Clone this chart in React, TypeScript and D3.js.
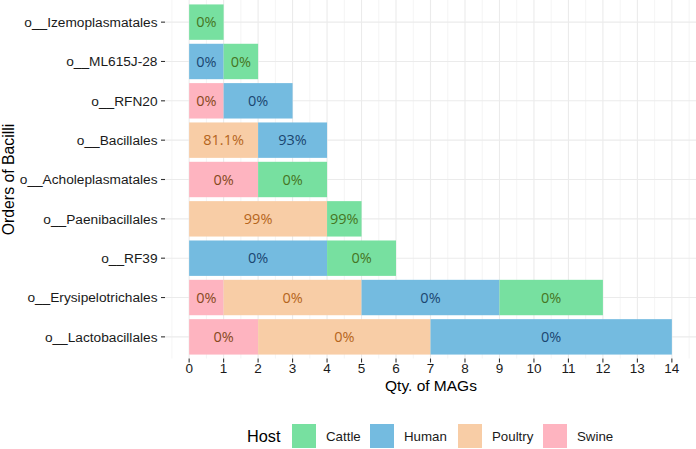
import React from "react";
import * as d3 from "d3";

const categories = [
  "o__Izemoplasmatales",
  "o__ML615J-28",
  "o__RFN20",
  "o__Bacillales",
  "o__Acholeplasmatales",
  "o__Paenibacillales",
  "o__RF39",
  "o__Erysipelotrichales",
  "o__Lactobacillales",
];
const hosts = ["Swine", "Poultry", "Human", "Cattle"];
const legendHosts = ["Cattle", "Human", "Poultry", "Swine"];
const swine = [0, 0, 1, 0, 2, 0, 0, 1, 2];
const poultry = [0, 0, 0, 2, 0, 4, 0, 4, 5];
const human = [0, 1, 2, 2, 0, 0, 4, 4, 7];
const cattle = [1, 1, 0, 0, 2, 1, 2, 3, 0];
const swineLbl = ["", "", "0%", "", "0%", "", "", "0%", "0%"];
const poultryLbl = ["", "", "", "81.1%", "", "99%", "", "0%", "0%"];
const humanLbl = ["", "0%", "0%", "93%", "", "", "0%", "0%", "0%"];
const cattleLbl = ["0%", "0%", "", "", "0%", "99%", "0%", "0%", ""];
const xTicks = d3.range(0, 15);

const fills: Record<string, string> = {
  Cattle: "#77e0a0",
  Human: "#74bbe0",
  Poultry: "#f8cda6",
  Swine: "#feb4c0",
};
const textCols: Record<string, string> = {
  Cattle: "#467522",
  Human: "#1b4670",
  Poultry: "#b5651c",
  Swine: "#86491c",
};

const values: Record<string, number[]> = { Swine: swine, Poultry: poultry, Human: human, Cattle: cattle };
const labels: Record<string, string[]> = { Swine: swineLbl, Poultry: poultryLbl, Human: humanLbl, Cattle: cattleLbl };

export default function App() {
  const W = 696, H = 449;
  const x = d3.scaleLinear().domain([-0.7, 14.7]).range([165, 696]);
  const y = d3.scaleBand().domain(categories).range([0.5, 358.5]).paddingOuter(0.1).paddingInner(0.1).align(0.5);
  const rows = categories.map((c, i) => {
    let acc = 0;
    return hosts.map((h) => {
      const v = values[h][i];
      const seg = { h, x0: acc, x1: acc + v, label: labels[h][i], cat: c };
      acc += v;
      return seg;
    }).filter((s) => s.x1 > s.x0);
  });
  const grid = d3.range(-0.5, 14.6, 0.5);
  const axisFont = "Liberation Sans, Arial, sans-serif";
  const legendX: Record<string, number> = { Cattle: 292, Human: 370, Poultry: 458, Swine: 543 };
  return (
    <svg width={W} height={H} style={{ position: "absolute", left: 0, top: 0, background: "#fff" }}>
      <g>
        {grid.map((g) => (
          <line key={"g" + g} x1={x(g)} x2={x(g)} y1={0} y2={358.5}
            stroke="#ebebeb" strokeWidth={Number.isInteger(g) ? 1.1 : 0.55} />
        ))}
        {categories.map((c) => (
          <line key={"hy" + c} x1={165} x2={696} y1={y(c)! + y.bandwidth() / 2} y2={y(c)! + y.bandwidth() / 2}
            stroke="#ebebeb" strokeWidth={1.1} />
        ))}
      </g>
      {rows.map((segs) =>
        segs.map((s) => (
          <g key={s.cat + s.h}>
            <rect x={x(s.x0)} width={x(s.x1) - x(s.x0)} y={y(s.cat)!} height={y.bandwidth()} fill={fills[s.h]} />
            <text x={(x(s.x0) + x(s.x1)) / 2} y={y(s.cat)! + y.bandwidth() / 2} dy="0.36em" textAnchor="middle"
              fontFamily="Open Sans, DejaVu Sans, sans-serif" fontSize={14.5} fill={textCols[s.h]}>{s.label}</text>
          </g>
        ))
      )}
      {categories.map((c) => (
        <g key={"yl" + c}>
          <line x1={161} x2={165} y1={y(c)! + y.bandwidth() / 2} y2={y(c)! + y.bandwidth() / 2} stroke="#333" strokeWidth={1.1} />
          <text x={157.5} y={y(c)! + y.bandwidth() / 2} dy="0.35em" textAnchor="end" fontFamily={axisFont} fontSize={13.7} fill="#1a1a1a">{c}</text>
        </g>
      ))}
      {xTicks.map((t) => (
        <g key={"xt" + t}>
          <line x1={x(t)} x2={x(t)} y1={358.5} y2={362.5} stroke="#333" strokeWidth={1.1} />
          <text x={x(t)} y={372.5} textAnchor="middle" fontFamily={axisFont} fontSize={13.5} fill="#1a1a1a">{t}</text>
        </g>
      ))}
      <text x={431} y={390.5} textAnchor="middle" fontFamily={axisFont} fontSize={15.5} fill="#000">Qty. of MAGs</text>
      <text transform={`translate(14,${179.5}) rotate(-90)`} textAnchor="middle" fontFamily={axisFont} fontSize={15.8} fill="#000">Orders of Bacilli</text>
      <text x={247} y={442} fontFamily={axisFont} fontSize={16.3} fill="#000">Host</text>
      {legendHosts.map((h) => (
        <g key={"lg" + h}>
          <rect x={legendX[h]} y={424} width={24} height={24} fill={fills[h]} />
          <text x={legendX[h] + 34} y={441} fontFamily={axisFont} fontSize={13.3} fill="#1a1a1a">{h}</text>
        </g>
      ))}
    </svg>
  );
}
